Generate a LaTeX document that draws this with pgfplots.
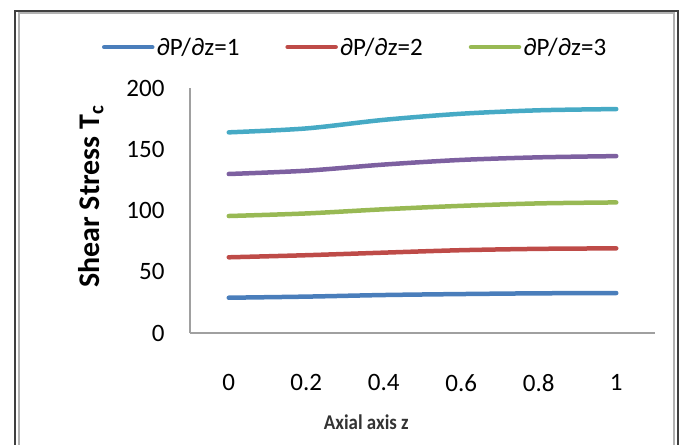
\documentclass[border=0pt]{standalone}
\usepackage{pgfplots}
\pgfplotsset{compat=1.18}
\usepackage{fontspec}
\setmainfont{Carlito}
\definecolor{cblue}{HTML}{4A7EBB}
\definecolor{cred}{HTML}{BE4B48}
\definecolor{cgreen}{HTML}{98B954}
\definecolor{cpurple}{HTML}{7D60A0}
\definecolor{ccyan}{HTML}{46AAC5}
\definecolor{axgray}{HTML}{A0A0A0}
\begin{document}
\begin{tikzpicture}
\draw[black!75,line width=1.2bp] (15bp,-460bp) -- (15bp,-11bp) -- (678bp,-11bp) -- (678bp,-460bp);
\draw[black!30,line width=1.5bp] (19bp,-460bp) -- (19bp,-13bp) -- (674bp,-13bp) -- (674bp,-460bp);
\begin{axis}[
  at={(190bp,-333bp)}, anchor=south west,
  scale only axis, width=465bp, height=245bp,
  xmin=-0.1, xmax=1.1, ymin=0, ymax=200,
  axis x line*=bottom, axis y line*=left,
  axis line style={axgray, line width=1.5bp, -},
  xtick={0,0.2,0.4,0.6,0.8,1},
  xticklabels={0,0.2,0.4,0.6,0.8,1},
  ytick={0,50,100,150,200},
  major tick length=0pt,
  /pgf/number format/assume math mode=true,
  tick label style={font=\fontsize{25bp}{28bp}\selectfont, black},
  xticklabel style={yshift=-38bp},
  yticklabel style={xshift=-22bp},
  ylabel={\textbf{Shear Stress T\textsubscript{c}}},
  ylabel style={font=\fontsize{30bp}{33bp}\selectfont, yshift=16bp, xshift=14bp},
  clip=false,
  legend columns=3,
  legend style={draw=none, fill=none, at={(0.355,1.167)}, anchor=center,
    font=\fontsize{25bp}{28bp}\selectfont,
    /tikz/every even column/.append style={column sep=44bp},
    inner sep=0pt},
  legend cell align=left,
  legend image code/.code={\draw[#1, line width=4.5bp, line cap=round] (0bp,0bp) -- (48bp,0bp);},
]
\addplot[cblue, line width=4.5bp, line cap=round, smooth] coordinates {(0,28.8) (0.2,29.7) (0.4,31.0) (0.6,31.8) (0.8,32.4) (1,32.6)};
\addlegendentry{∂P/∂z=1}
\addplot[cred, line width=4.5bp, line cap=round, smooth] coordinates {(0,61.8) (0.2,63.5) (0.4,65.6) (0.6,67.6) (0.8,68.7) (1,69.1)};
\addlegendentry{∂P/∂z=2}
\addplot[cgreen, line width=4.5bp, line cap=round, smooth] coordinates {(0,95.5) (0.2,97.6) (0.4,101.0) (0.6,103.8) (0.8,105.8) (1,106.6)};
\addlegendentry{∂P/∂z=3}
\addplot[cpurple, line width=4.5bp, line cap=round, smooth, forget plot] coordinates {(0,129.8) (0.2,132.5) (0.4,137.5) (0.6,141.3) (0.8,143.4) (1,144.4)};
\addplot[ccyan, line width=4.5bp, line cap=round, smooth, forget plot] coordinates {(0,163.8) (0.2,167.0) (0.4,174.0) (0.6,179.0) (0.8,181.8) (1,182.8)};
\node[font=\fontsize{21bp}{23bp}\selectfont\bfseries, text=black!80] at (axis cs:0.355,-73) {\scalebox{0.9}[1]{Axial axis z}};
\end{axis}
\pgfresetboundingbox
\path (0bp,0bp) rectangle (685bp,-445bp);
\end{tikzpicture}
\end{document}
